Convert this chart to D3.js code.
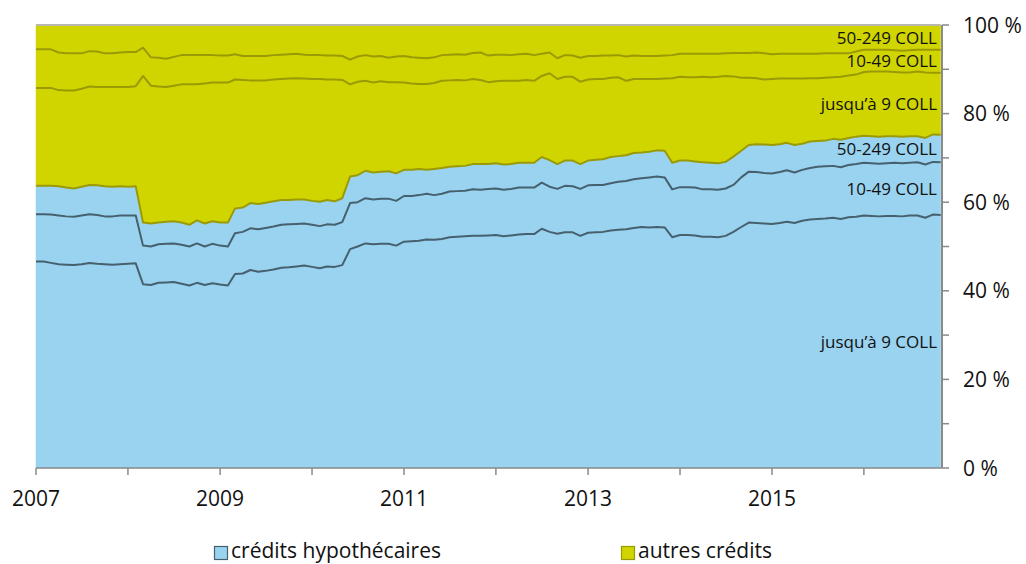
<!DOCTYPE html>
<html><head><meta charset="utf-8">
<script src="https://cdn.jsdelivr.net/npm/d3@7"></script>
<style>
body{margin:0;background:#fff}
svg{display:block}
text{font-family:"Open Sans","Noto Sans",sans-serif;fill:#111}
</style>
</head><body>
<svg id="chart" width="1026" height="564"></svg>
<script>
// Monthly categories: Jan 2007 .. Nov 2016
const months = d3.timeMonth.range(new Date(2007,0,1), new Date(2016,11,1));

// Cumulative shares (%), bottom to top
// crédits hypothécaires – jusqu'à 9 COLL (top edge)
const hypoJusqu9Cum = [
46.6,46.6,46.3,46.0,45.9,45.8,46.0,46.3,46.1,46.0,45.9,46.0,46.1,46.2,41.5,41.3,41.8,41.9,42.0,41.6,41.2,41.8,41.3,41.7,41.4,41.2,43.8,43.9,44.7,44.3,
44.5,44.8,45.2,45.3,45.5,45.7,45.4,45.1,45.5,45.4,45.8,49.4,50.0,50.7,50.5,50.6,50.6,50.2,51.1,51.2,51.3,51.6,51.5,51.7,52.1,52.2,52.3,52.4,
52.4,52.5,52.6,52.3,52.5,52.7,52.8,52.8,54.0,53.3,52.9,53.2,53.2,52.4,53.1,53.2,53.3,53.6,53.8,53.9,54.2,54.4,54.3,54.4,54.3,52.1,52.6,52.6,52.5,52.2,
52.2,52.1,52.4,53.3,54.4,55.4,55.3,55.2,55.1,55.3,55.6,55.3,55.8,56.1,56.2,56.3,56.5,56.2,56.6,56.7,57.0,56.9,56.8,56.9,56.9,56.8,57.0,57.0,56.5,57.2,57.1];
// crédits hypothécaires – 10-49 COLL (top edge)
const hypo10_49Cum = [
57.3,57.3,57.2,57.0,56.8,56.7,57.0,57.3,57.1,56.8,56.8,57.0,57.0,57.0,50.2,50.0,50.5,50.6,50.7,50.4,50.0,50.7,50.0,50.6,50.2,50.0,53.0,53.3,54.1,53.9,
54.2,54.5,54.9,55.0,55.1,55.2,54.9,54.6,55.0,54.9,55.5,59.8,60.0,60.9,60.6,60.8,60.8,60.3,61.4,61.4,61.6,61.9,61.6,61.9,62.4,62.5,62.6,62.9,
62.8,63.0,63.1,62.8,63.0,63.3,63.3,63.3,64.4,63.5,63.0,63.7,63.6,63.0,63.8,63.9,63.9,64.3,64.6,64.8,65.2,65.4,65.6,65.8,65.6,62.9,63.4,63.4,63.3,62.9,
62.9,62.8,63.1,63.9,65.6,66.9,66.8,66.6,66.5,66.8,67.2,66.7,67.3,67.7,68.0,68.1,68.2,67.9,68.4,68.6,68.9,68.8,68.7,68.8,68.9,68.8,68.9,69.0,68.5,69.1,69.0];
// crédits hypothécaires – 50-249 COLL (top edge)
const hypo50_249Cum = [
63.7,63.7,63.7,63.6,63.3,63.1,63.5,63.9,63.8,63.6,63.5,63.6,63.5,63.6,55.4,55.2,55.4,55.6,55.7,55.4,54.9,55.9,55.2,55.7,55.4,55.4,58.6,58.8,59.8,59.6,
59.9,60.2,60.5,60.5,60.6,60.6,60.3,60.1,60.5,60.2,60.9,65.8,66.1,67.1,66.7,66.9,67.0,66.5,67.3,67.3,67.5,67.3,67.5,67.7,68.0,68.1,68.2,68.6,
68.6,68.6,68.8,68.5,68.6,68.9,68.9,68.9,70.2,69.5,68.6,69.4,69.4,68.6,69.4,69.6,69.7,70.2,70.4,70.6,71.1,71.2,71.4,71.7,71.6,68.9,69.4,69.4,69.2,69.0,
68.9,68.8,69.1,70.3,71.6,72.9,73.1,73.0,72.9,73.1,73.4,72.9,73.2,73.7,73.8,73.9,74.3,74.1,74.5,74.8,75.0,74.9,74.8,74.9,74.9,74.8,74.9,74.9,74.5,75.3,75.2];
// autres crédits – jusqu'à 9 COLL (top edge)
const autresJusqu9Cum = [
85.8,85.8,85.8,85.3,85.2,85.2,85.6,86.1,86.0,86.0,86.0,86.0,86.0,86.2,88.5,86.3,86.1,86.0,86.3,86.6,86.6,86.6,86.8,87.0,87.0,87.0,87.7,87.6,87.5,87.5,
87.5,87.7,87.8,87.9,88.0,87.9,87.8,87.8,87.7,87.7,87.6,86.6,87.2,87.4,87.0,87.3,87.1,87.1,87.0,86.8,86.7,86.7,86.9,87.4,87.5,87.6,87.5,87.8,
87.6,87.1,87.3,87.4,87.4,87.4,87.6,87.4,88.5,89.1,87.8,88.3,88.3,87.2,87.7,87.8,87.8,88.1,88.2,87.4,87.8,87.8,87.8,87.8,87.9,88.0,88.3,88.2,88.2,88.3,
88.2,88.3,88.5,88.4,88.1,88.1,88.0,87.7,87.8,87.9,87.9,87.9,87.9,88.0,88.0,88.1,88.2,88.3,88.6,88.8,89.4,89.5,89.5,89.5,89.4,89.3,89.3,89.5,89.3,89.2,89.2];
// autres crédits – 10-49 COLL (top edge)
const autres10_49Cum = [
94.5,94.5,94.5,93.8,93.6,93.6,93.6,94.1,94.0,93.6,93.6,93.8,93.9,93.9,94.9,92.7,92.6,92.4,92.8,93.2,93.2,93.2,93.2,93.2,93.1,93.1,93.4,93.0,93.0,93.0,
93.0,93.2,93.3,93.4,93.5,93.3,93.2,93.2,93.1,93.1,93.0,92.2,92.9,93.2,92.9,93.0,92.6,92.9,93.0,92.7,92.6,92.5,92.7,93.2,93.3,93.4,93.3,93.7,
93.8,93.1,93.3,93.3,93.2,93.4,93.5,93.2,93.5,93.8,92.5,93.2,93.1,92.6,93.0,93.0,93.1,93.1,93.2,92.9,93.1,93.0,93.0,93.0,93.1,93.2,93.5,93.5,93.5,93.5,
93.5,93.5,93.6,93.7,93.7,93.7,93.8,93.6,93.4,93.5,93.5,93.5,93.5,93.5,93.5,93.6,93.6,93.6,93.6,94.0,94.4,94.4,94.4,94.4,94.3,94.2,94.3,94.4,94.4,94.4,94.4];
// autres crédits – 50-249 COLL (top edge = 100 %)
const autres50_249Cum = months.map(() => 100);

const layerNames = ["jusqu\u2019à 9 COLL","10-49 COLL","50-249 COLL","jusqu\u2019à 9 COLL","10-49 COLL","50-249 COLL"];
const legendNames = ["crédits hypothécaires","autres crédits"];
const xTickYears = [2007,2008,2009,2010,2011,2012,2013,2014,2015,2016];
const xLabelYears = [2007,2009,2011,2013,2015];
const yTickValues = [0,10,20,30,40,50,60,70,80,90,100];
const yLabelValues = [0,20,40,60,80,100];

const BLUE = "#99d3f0", YEL = "#d0d500", SLATE = "#46606d", OLIVE = "#9a9a06", AXIS = "#8a8a8a";

const svg = d3.select("#chart");
const x = d3.scaleTime().domain([months[0], months[months.length-1]]).range([36, 940.7]);
const y = d3.scaleLinear().domain([0,100]).range([468, 25]);

const bounds = [months.map(()=>0), hypoJusqu9Cum, hypo10_49Cum, hypo50_249Cum, autresJusqu9Cum, autres10_49Cum, autres50_249Cum];
const fills = [BLUE,BLUE,BLUE,YEL,YEL,YEL];

for (let k=0;k<6;k++){
  const lo = bounds[k], hi = bounds[k+1];
  const area = d3.area().x((d,i)=>x(months[i])).y0((d,i)=>y(lo[i])).y1((d,i)=>y(hi[i]));
  svg.append("path").attr("d", area(months)).attr("fill", fills[k]).attr("stroke", fills[k]).attr("stroke-width",0.5);
}
const lineColors = [null, SLATE, SLATE, OLIVE, OLIVE, OLIVE, "#b8b8b0"];
for (let k=1;k<7;k++){
  const arr = bounds[k];
  const line = d3.line().x((d,i)=>x(months[i])).y((d,i)=>y(arr[i]));
  svg.append("path").attr("d", line(months)).attr("fill","none")
    .attr("stroke", lineColors[k]).attr("stroke-width", k===6?1.8:2).attr("stroke-linejoin","round");
}

// X axis
const xAxisG = svg.append("g").attr("transform","translate(0,468)");
xAxisG.append("line").attr("x1",36).attr("x2",942).attr("stroke",AXIS).attr("stroke-width",1.5);
xTickYears.forEach(yr=>{
  const px = x(new Date(yr,0,1));
  xAxisG.append("line").attr("x1",px).attr("x2",px).attr("y1",0).attr("y2",7).attr("stroke",AXIS).attr("stroke-width",1.5);
});
xLabelYears.forEach(yr=>{
  xAxisG.append("text").attr("x", x(new Date(yr,0,1))).attr("y",38).attr("text-anchor","middle")
    .attr("font-size",21).text(yr);
});

// Y axis (right)
const yAxisG = svg.append("g").attr("transform","translate(942,0)");
yAxisG.append("line").attr("y1",y(0)).attr("y2",y(100)).attr("stroke",AXIS).attr("stroke-width",2);
yTickValues.forEach(v=>{
  yAxisG.append("line").attr("x1",0).attr("x2",7).attr("y1",y(v)).attr("y2",y(v)).attr("stroke",AXIS).attr("stroke-width",1.5);
});
yLabelValues.forEach(v=>{
  yAxisG.append("text").attr("x",21).attr("y",y(v)).attr("dy","0.36em").attr("font-size",21).text(v+" %");
});

// Layer labels, centred on each layer at the last month
const last = months.length-1;
for (let k=0;k<6;k++){
  const cy = (y(bounds[k][last]) + y(bounds[k+1][last]))/2;
  svg.append("text").attr("x",937).attr("y",cy).attr("dy","0.36em").attr("text-anchor","end")
    .attr("font-size",17).text(layerNames[k]);
}

// Legend
const legend = [{name:legendNames[0], fill:BLUE, stroke:SLATE, x:214},{name:legendNames[1], fill:YEL, stroke:OLIVE, x:621}];
legend.forEach(l=>{
  svg.append("rect").attr("x",l.x+0.5).attr("y",546.5).attr("width",13).attr("height",13)
    .attr("fill",l.fill).attr("stroke",l.stroke).attr("stroke-width",1.2);
  svg.append("text").attr("x",l.x+17).attr("y",558).attr("font-size",21).text(l.name);
});
</script>
</body></html>
